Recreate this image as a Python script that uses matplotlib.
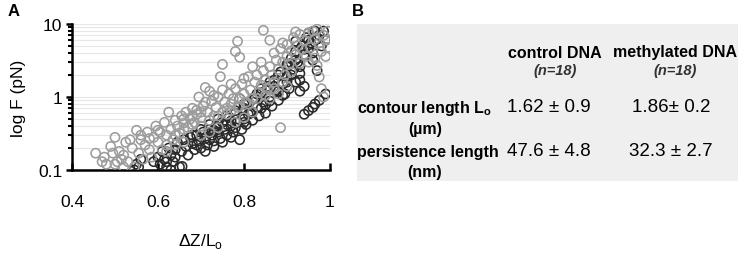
import numpy as np
import matplotlib
matplotlib.use("Agg")
import matplotlib.pyplot as plt
from matplotlib.patches import Rectangle
from matplotlib.ticker import LogLocator, FixedLocator, NullFormatter

plt.rcParams['font.family'] = ['Liberation Sans', 'DejaVu Sans']

# control DNA (grey circles): extension / force in pN
grey_x = [0.455, 0.47, 0.475, 0.48, 0.49, 0.495, 0.50, 0.505, 0.51, 0.515, 0.52, 0.525,
          0.53, 0.535, 0.54, 0.545, 0.55, 0.555, 0.56, 0.565, 0.57, 0.575, 0.58, 0.585,
          0.59, 0.595, 0.60, 0.605, 0.61, 0.615, 0.62, 0.625, 0.63, 0.635, 0.64, 0.645,
          0.65, 0.655, 0.66, 0.665, 0.67, 0.675, 0.68, 0.685, 0.69, 0.695, 0.70, 0.705,
          0.71, 0.715, 0.72, 0.725, 0.73, 0.735, 0.74, 0.745, 0.75, 0.75, 0.755, 0.76,
          0.765, 0.77, 0.775, 0.78, 0.785, 0.79, 0.78, 0.785, 0.79, 0.795, 0.80, 0.805,
          0.81, 0.815, 0.82, 0.825, 0.83, 0.835, 0.84, 0.845, 0.845, 0.85, 0.855, 0.86,
          0.86, 0.865, 0.87, 0.875, 0.88, 0.885, 0.885, 0.89, 0.895, 0.90, 0.90, 0.905,
          0.91, 0.915, 0.92, 0.925, 0.93, 0.935, 0.94, 0.945, 0.95, 0.955, 0.96, 0.965,
          0.965, 0.97, 0.975, 0.975, 0.98, 0.98, 0.985, 0.985, 0.99, 0.99, 0.995, 0.995,
          0.97, 0.66, 0.68, 0.70, 0.72, 0.74, 0.76, 0.77, 0.79, 0.81, 0.83, 0.85, 0.87,
          0.89, 0.91, 0.93, 0.95, 0.69, 0.71, 0.73, 0.75, 0.77, 0.80, 0.82, 0.84, 0.87,
          0.89, 0.92, 0.50, 0.52, 0.56, 0.58, 0.60, 0.62, 0.64, 0.66, 0.68, 0.70,
          0.62, 0.66, 0.70, 0.74, 0.78, 0.82, 0.86, 0.90, 0.64, 0.72, 0.80, 0.88]
grey_f = [0.17, 0.13, 0.15, 0.12, 0.21, 0.17, 0.28, 0.13, 0.18, 0.14, 0.16, 0.24,
          0.13, 0.26, 0.20, 0.11, 0.35, 0.17, 0.26, 0.14, 0.22, 0.33, 0.19, 0.15,
          0.28, 0.40, 0.24, 0.33, 0.19, 0.45, 0.30, 0.62, 0.36, 0.26, 0.48, 0.40,
          0.32, 0.55, 0.44, 0.62, 0.38, 0.50, 0.70, 0.45, 0.58, 1.0, 0.52, 0.75,
          1.35, 0.62, 1.2, 0.88, 0.55, 0.72, 1.0, 1.9, 2.8, 0.62, 0.85, 0.70,
          1.1, 0.80, 0.95, 4.2, 5.8, 3.5, 1.3, 0.72, 0.95, 1.5, 1.1, 0.85,
          1.9, 1.25, 0.95, 1.6, 2.0, 1.15, 1.45, 8.2, 2.3, 1.7, 1.3, 6.0,
          2.6, 2.0, 1.6, 3.2, 2.4, 4.6, 0.38, 3.0, 2.0, 5.2, 3.6, 2.8,
          4.3, 6.5, 3.8, 5.0, 7.2, 4.5, 6.0, 3.6, 7.5, 4.8, 8.0, 6.2,
          3.4, 8.5, 5.5, 1.88, 4.2, 1.3, 7.0, 1.0, 6.0, 3.6, 8.0, 4.8,
          2.7, 0.36, 0.42, 0.40, 0.48, 0.55, 0.58, 0.65, 0.75, 0.80, 0.95, 1.05, 1.3,
          1.6, 2.2, 2.9, 3.0, 0.66, 0.85, 1.05, 1.25, 1.5, 1.8, 2.6, 3.0, 4.0,
          5.5, 7.8, 0.12, 0.11, 0.30, 0.27, 0.35, 0.22, 0.30, 0.50, 0.55, 0.62,
          0.18, 0.24, 0.30, 0.38, 0.45, 0.62, 0.95, 1.4, 0.22, 0.33, 0.52, 1.1]

# methylated DNA (black circles)
black_x = [0.545, 0.55, 0.555, 0.56, 0.60, 0.605, 0.61, 0.615, 0.62, 0.625, 0.63, 0.635,
           0.64, 0.645, 0.65, 0.655, 0.66, 0.665, 0.67, 0.675, 0.68, 0.685, 0.69, 0.695,
           0.70, 0.705, 0.71, 0.715, 0.72, 0.725, 0.73, 0.735, 0.74, 0.745, 0.75, 0.755,
           0.76, 0.765, 0.77, 0.775, 0.78, 0.785, 0.79, 0.795, 0.80, 0.80, 0.805, 0.81,
           0.815, 0.82, 0.825, 0.83, 0.835, 0.84, 0.845, 0.85, 0.855, 0.86, 0.865, 0.87,
           0.875, 0.88, 0.885, 0.89, 0.895, 0.90, 0.90, 0.905, 0.91, 0.915, 0.92, 0.92,
           0.925, 0.93, 0.935, 0.94, 0.945, 0.95, 0.955, 0.96, 0.965, 0.97, 0.975, 0.98,
           0.99, 0.94, 0.95, 0.96, 0.965, 0.975, 0.99, 0.93, 0.94, 0.62, 0.63, 0.656,
           0.59, 0.64, 0.69, 0.71, 0.73, 0.75, 0.77, 0.72, 0.74, 0.76, 0.78, 0.80,
           0.82, 0.84, 0.86, 0.88, 0.90, 0.91, 0.93, 0.95, 0.96, 0.97, 0.985, 0.92,
           0.68, 0.70, 0.72, 0.74, 0.76, 0.78, 0.80, 0.82, 0.84, 0.86, 0.88, 0.90,
           0.92, 0.94, 0.73, 0.77, 0.81, 0.85, 0.89, 0.93, 0.79, 0.83, 0.87, 0.91, 0.95]
black_f = [0.10, 0.12, 0.11, 0.14, 0.15, 0.12, 0.18, 0.14, 0.11, 0.20, 0.16, 0.13,
           0.19, 0.24, 0.11, 0.18, 0.26, 0.21, 0.16, 0.28, 0.23, 0.19, 0.30, 0.25,
           0.20, 0.33, 0.27, 0.22, 0.36, 0.30, 0.25, 0.40, 0.33, 0.27, 0.45, 0.36,
           0.30, 0.52, 0.40, 0.33, 0.60, 0.45, 0.26, 0.36, 0.70, 0.50, 0.42, 0.85,
           0.60, 0.48, 0.95, 0.72, 0.55, 1.15, 0.85, 0.60, 1.4, 1.0, 0.75, 1.7,
           1.25, 0.90, 2.2, 1.5, 1.1, 2.8, 1.9, 1.3, 3.4, 2.4, 4.2, 1.6,
           3.0, 2.1, 5.0, 3.8, 6.5, 7.5, 5.5, 4.0, 8.0, 6.2, 7.0, 5.0,
           6.0, 0.58, 0.65, 0.72, 0.80, 0.90, 1.1, 1.2, 1.4, 0.13, 0.10, 0.112,
           0.13, 0.15, 0.22, 0.18, 0.21, 0.24, 0.28, 0.26, 0.42, 0.42, 0.38, 0.45,
           0.62, 0.70, 0.88, 1.2, 1.6, 2.0, 2.6, 4.6, 3.2, 2.3, 8.0, 5.8,
           0.30, 0.36, 0.42, 0.50, 0.55, 0.65, 0.80, 0.95, 1.3, 1.6, 2.0, 2.6,
           3.2, 4.5, 0.35, 0.47, 0.58, 0.78, 1.05, 1.7, 0.95, 1.1, 1.4, 2.9, 6.0]

# panel B table
col_heads = ['control DNA', 'methylated DNA']
n_labels = ['(n=18)', '(n=18)']
row_heads = [('contour length L$_\\mathregular{o}$', '(\u00b5m)'),
             ('persistence length', '(nm)')]
cells = [['1.62 \u00b1 0.9', '1.86\u00b1 0.2'],
         ['47.6 \u00b1 4.8', '32.3 \u00b1 2.7']]

fig = plt.figure(figsize=(7.41, 2.55), dpi=100)
ax = fig.add_axes([72 / 741, 1 - 171 / 255, 258 / 741, 146 / 255])

ax.scatter(black_x, black_f, s=44, facecolors='none', edgecolors='#2a2a2a',
           linewidths=1.15, zorder=3)
ax.scatter(grey_x, grey_f, s=44, facecolors='none', edgecolors='#9c9c9c',
           linewidths=1.15, zorder=3)

ax.set_yscale('log')
ax.set_xlim(0.4, 1.0)
ax.set_ylim(0.1, 10)
ax.xaxis.set_major_locator(FixedLocator([0.4, 0.6, 0.8, 1.0]))
ax.set_xticklabels(['0.4', '0.6', '0.8', '1'])
ax.yaxis.set_major_locator(FixedLocator([0.1, 1, 10]))
ax.set_yticklabels(['0.1', '1', '10'])
ax.yaxis.set_minor_locator(LogLocator(base=10, subs=np.arange(2, 10)))
ax.yaxis.set_minor_formatter(NullFormatter())
ax.grid(True, which='both', axis='y', color='#e6e6e6', linewidth=0.8, zorder=0)
ax.set_axisbelow(True)

for s in ['top', 'right']:
    ax.spines[s].set_visible(False)
for s in ['left', 'bottom']:
    ax.spines[s].set_linewidth(1.8)
ax.tick_params(axis='x', direction='in', length=5, width=1.8, labelsize=12.5, pad=17)
ax.tick_params(axis='y', which='major', direction='out', length=4, width=1.8,
               labelsize=12.5, pad=3)
ax.tick_params(axis='y', which='minor', direction='out', length=3, width=1.5)
ax.set_ylabel('log F (pN)', fontsize=12.5, labelpad=9)
ax.set_xlabel('\u0394Z/L$_\\mathregular{o}$', fontsize=12.5, labelpad=16)

fig.text(8 / 741, 1 - 12 / 255, 'A', fontsize=12, fontweight='bold', va='center')
fig.text(352 / 741, 1 - 12 / 255, 'B', fontsize=12, fontweight='bold', va='center')

fig.patches.append(Rectangle((357 / 741, 1 - 182 / 255), 381 / 741, 157 / 255,
                             transform=fig.transFigure, facecolor='#efefef',
                             edgecolor='none', zorder=0))

col_x = [555, 675]
for cx, head, nl in zip(col_x, col_heads, n_labels):
    fig.text(cx / 741, 1 - 53 / 255, head, fontsize=11.5, fontweight='bold',
             ha='center', va='center')
    fig.text(cx / 741, 1 - 71 / 255, nl, fontsize=10.5, fontweight='bold',
             style='italic', ha='center', va='center', color='#333333')

row_y = [(108, 130), (152, 172)]
for (y1, y2), (lab, unit), vals in zip(row_y, row_heads, cells):
    fig.text(357 / 741, 1 - y1 / 255, lab, fontsize=11.5, fontweight='bold',
             ha='left', va='center')
    fig.text(425 / 741, 1 - y2 / 255, unit, fontsize=11.5, fontweight='bold',
             ha='center', va='center')
    for cx, v in zip([549, 671], vals):
        fig.text(cx / 741, 1 - y1 / 255, v, fontsize=13.5, ha='center', va='center')

fig.savefig('out.png', dpi=100)
